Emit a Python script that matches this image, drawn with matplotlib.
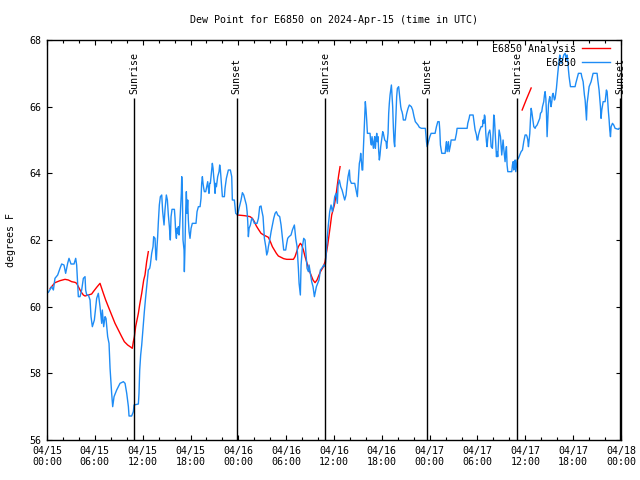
import numpy as np
import matplotlib
matplotlib.use("Agg")
import matplotlib.pyplot as plt

# observed dew point (hours since 04/15 00:00 UTC, deg F)
obsHours = [
    0.17, 0.59, 0.80, 1.00, 1.34, 1.63, 1.84, 2.13, 2.34, 2.59, 2.76, 3.01, 3.39, 3.60, 3.72, 3.93,
    4.14, 4.35, 4.56, 4.77, 4.85, 4.98, 5.19, 5.40, 5.52, 5.69, 5.94, 6.23, 6.44, 6.65, 6.86, 6.94,
    7.11, 7.28, 7.40, 7.49, 7.61, 7.78, 7.91, 8.11, 8.24, 8.41, 8.74, 9.16, 9.58, 9.79, 10.00, 10.21,
    10.29, 10.62, 10.83, 10.92, 11.46, 11.54, 11.63, 11.75, 11.88, 12.09, 12.21, 12.38, 12.55, 12.71,
    12.88, 12.96, 13.13, 13.30, 13.38, 13.55, 13.63, 13.72, 13.80, 13.88, 13.97, 14.09, 14.22, 14.39,
    14.51, 14.68, 14.80, 14.97, 15.10, 15.22, 15.35, 15.47, 15.56, 15.68, 15.98, 16.06, 16.14, 16.23,
    16.31, 16.39, 16.48, 16.56, 16.64, 16.73, 16.85, 16.90, 16.98, 17.06, 17.19, 17.23, 17.31, 17.40,
    17.48, 17.56, 17.65, 17.73, 17.82, 17.94, 18.07, 18.23, 18.69, 18.82, 18.99, 19.20, 19.32, 19.40,
    19.49, 19.57, 19.66, 19.74, 19.91, 19.99, 20.16, 20.24, 20.32, 20.41, 20.49, 20.66, 20.74, 20.83,
    20.91, 21.00, 21.08, 21.16, 21.25, 21.41, 21.58, 21.66, 21.75, 21.83, 21.91, 22.00, 22.25, 22.33,
    22.50, 22.75, 23.00, 23.17, 23.25, 23.50, 23.67, 23.92, 24.09, 24.34, 24.51, 24.68, 24.84, 25.01,
    25.10, 25.18, 25.26, 25.35, 25.51, 25.68, 25.85, 26.01, 26.35, 26.52, 26.68, 26.85, 26.93, 27.10,
    27.18, 27.27, 27.44, 27.56, 27.69, 27.77, 27.94, 28.11, 28.27, 28.44, 28.61, 28.77, 28.94, 29.19,
    29.36, 29.53, 29.69, 29.94, 30.07, 30.19, 30.36, 30.61, 30.78, 30.95, 31.03, 31.11, 31.20, 31.37,
    31.53, 31.62, 31.78, 31.87, 32.04, 32.20, 32.37, 32.45, 32.62, 32.79, 32.87, 33.04, 33.20, 33.37,
    33.54, 33.62, 33.79, 33.96, 34.12, 34.29, 34.46, 34.71, 34.88, 34.96, 35.13, 35.29, 35.46, 35.63,
    35.80, 35.96, 36.09, 36.26, 36.42, 36.51, 36.67, 36.84, 37.01, 37.18, 37.34, 37.51, 37.59, 37.76,
    37.93, 38.01, 38.18, 38.60, 38.76, 38.93, 39.02, 39.10, 39.18, 39.27, 39.35, 39.43, 39.52, 39.60,
    39.68, 39.77, 39.85, 39.93, 40.02, 40.10, 40.19, 40.52, 40.60, 40.69, 40.77, 40.94, 41.02, 41.11,
    41.19, 41.27, 41.36, 41.44, 41.52, 41.61, 41.69, 41.77, 41.86, 41.94, 42.02, 42.11, 42.19, 42.36,
    42.53, 42.61, 42.69, 42.78, 42.86, 42.94, 43.03, 43.11, 43.20, 43.28, 43.36, 43.45, 43.53, 43.61,
    43.70, 43.78, 43.86, 43.95, 44.11, 44.20, 44.28, 44.37, 44.45, 44.53, 44.62, 44.70, 44.95, 45.12,
    45.29, 45.45, 45.70, 45.87, 46.04, 46.20, 46.37, 46.54, 46.71, 46.96, 47.46, 47.60, 47.68, 47.85,
    48.02, 48.18, 48.68, 48.85, 49.02, 49.19, 49.27, 49.35, 49.52, 49.94, 50.02, 50.11, 50.19, 50.27,
    50.36, 50.44, 50.61, 50.69, 51.19, 51.36, 51.44, 52.70, 52.78, 52.95, 53.03, 53.45, 53.53, 53.62,
    53.70, 53.87, 53.95, 54.03, 54.12, 54.29, 54.45, 54.62, 54.70, 54.79, 54.87, 54.95, 55.04, 55.12,
    55.20, 55.29, 55.37, 55.54, 55.62, 55.71, 55.87, 55.96, 56.04, 56.12, 56.21, 56.29, 56.38, 56.46,
    56.54, 56.63, 56.71, 56.79, 56.88, 56.96, 57.04, 57.13, 57.21, 57.29, 57.38, 57.46, 57.55, 57.63,
    57.71, 57.80, 58.30, 58.38, 58.47, 58.55, 58.63, 58.72, 58.80, 58.97, 59.13, 59.30, 59.47, 59.64,
    59.80, 59.89, 59.97, 60.14, 60.22, 60.31, 60.39, 60.48, 60.56, 60.64, 60.73, 60.81, 60.89, 60.98,
    61.06, 61.23, 61.31, 61.48, 61.65, 61.81, 61.90, 62.06, 62.15, 62.31, 62.40, 62.48, 62.57, 62.65,
    62.73, 62.82, 62.90, 62.98, 63.07, 63.15, 63.23, 63.32, 63.40, 63.49, 63.57, 63.65, 63.74, 63.82,
    63.90, 63.99, 64.07, 64.15, 64.24, 64.32, 64.40, 64.49, 64.66, 64.82, 64.99, 65.07, 65.16, 65.24,
    65.32, 65.41, 65.49, 65.58, 65.66, 66.24, 66.33, 66.49, 66.66, 67.00, 67.08, 67.25, 67.41, 67.50,
    67.58, 67.67, 67.75, 67.83, 67.92, 68.00, 68.25, 68.50, 69.00, 69.09, 69.25, 69.34, 69.42, 69.50,
    69.59, 69.76, 70.01, 70.17, 70.26, 70.34, 70.42, 70.51, 70.59, 70.68, 70.76, 70.93, 71.09, 71.26,
    71.68, 71.76,
]
obsValues = [
    60.43, 60.60, 60.50, 60.85, 60.95, 61.15, 61.28, 61.25, 61.00, 61.30, 61.45, 61.28, 61.28, 61.45, 61.25, 60.30,
    60.30, 60.50, 60.85, 60.90, 60.50, 60.35, 60.35, 60.20, 59.70, 59.40, 59.60, 60.25, 60.40, 60.00, 59.50, 59.90,
    59.40, 59.70, 59.65, 59.40, 59.10, 58.90, 58.15, 57.40, 57.00, 57.30, 57.50, 57.70, 57.75, 57.70, 57.40, 57.00,
    56.72, 56.72, 56.85, 57.05, 57.08, 57.40, 58.10, 58.55, 58.85, 59.50, 59.85, 60.30, 60.70, 61.10,
    61.15, 61.25, 61.60, 61.80, 62.10, 62.05, 61.60, 61.40, 61.80, 62.10, 62.55, 63.05, 63.30, 63.35,
    62.85, 62.45, 62.90, 63.35, 63.20, 62.75, 62.40, 62.00, 62.70, 62.92, 62.92, 62.65, 62.25, 62.05,
    62.35, 62.20, 62.40, 62.15, 62.40, 62.85, 63.40, 63.90, 63.45, 62.00, 61.70, 61.05, 61.80, 62.90,
    63.45, 62.80, 63.20, 62.60, 62.25, 62.05, 62.35, 62.50, 62.50, 62.85, 63.00, 63.00, 63.25, 63.70,
    63.90, 63.70, 63.55, 63.45, 63.45, 63.55, 63.75, 63.55, 63.40, 63.70, 63.70, 64.10, 64.30, 64.15,
    63.90, 63.70, 63.40, 63.70, 63.60, 63.90, 64.05, 64.25, 64.10, 63.85, 63.60, 63.30, 63.30, 63.55,
    63.85, 64.10, 64.10, 63.90, 63.20, 63.20, 62.80, 62.75, 62.95, 63.20, 63.42, 63.35, 63.20, 63.05,
    62.85, 62.55, 62.10, 62.35, 62.45, 62.65, 62.60, 62.50, 62.50, 62.65, 63.00, 63.02, 62.90, 62.70,
    62.40, 62.05, 61.80, 61.55, 61.65, 61.80, 62.00, 62.25, 62.45, 62.65, 62.80, 62.85, 62.75, 62.70,
    62.45, 62.05, 61.70, 61.70, 61.90, 62.05, 62.10, 62.15, 62.30, 62.40, 62.45, 62.25, 62.05, 61.80,
    61.15, 60.70, 60.35, 61.25, 61.80, 62.05, 62.00, 61.70, 61.15, 61.05, 61.25, 61.00, 60.75, 60.60,
    60.30, 60.40, 60.60, 60.70, 60.80, 61.10, 61.15, 61.25, 61.20, 61.35, 62.00, 62.45, 62.85, 63.05,
    62.85, 63.05, 63.30, 63.40, 63.10, 63.65, 63.80, 63.60, 63.50, 63.35, 63.20, 63.35, 63.55, 63.90,
    64.10, 63.80, 63.70, 63.70, 63.50, 63.30, 63.70, 64.00, 64.30, 64.40, 64.60, 64.40, 64.10, 64.10,
    64.70, 65.20, 65.60, 66.15, 65.90, 65.60, 65.20, 65.20, 64.95, 64.85, 65.10, 64.75, 64.95, 65.10,
    64.75, 65.00, 65.20, 64.95, 65.10, 64.65, 64.40, 64.55, 64.80, 64.95, 65.10, 65.25, 65.20, 65.00,
    64.95, 64.75, 64.95, 65.20, 65.80, 66.10, 66.35, 66.50, 66.65, 66.30, 66.00, 65.35, 64.95, 64.80,
    65.30, 65.80, 66.30, 66.55, 66.60, 66.40, 66.25, 66.00, 65.90, 65.85, 65.75, 65.60, 65.60, 65.80,
    65.95, 66.05, 66.00, 65.90, 65.70, 65.55, 65.50, 65.45, 65.38, 65.35, 65.35, 64.95, 64.80, 64.95,
    65.10, 65.20, 65.20, 65.40, 65.55, 65.55, 65.30, 64.85, 64.60, 64.60, 64.80, 64.95, 64.65, 64.80,
    64.95, 64.65, 64.85, 65.00, 65.00, 65.20, 65.35, 65.35, 65.50, 65.65, 65.75, 65.75, 65.60, 65.45,
    65.30, 65.15, 65.00, 65.00, 65.15, 65.30, 65.40, 65.40, 65.60, 65.50, 65.75, 65.70, 65.20, 64.95,
    64.80, 65.05, 65.20, 65.30, 65.15, 64.80, 64.75, 65.20, 65.75, 65.65, 65.25, 64.85, 64.50, 64.65,
    64.50, 64.95, 65.30, 65.20, 65.10, 64.80, 64.55, 64.80, 65.00, 64.75, 64.55, 64.35, 64.65, 64.80,
    64.25, 64.05, 64.05, 64.25, 64.35, 64.10, 64.35, 64.40, 64.05, 64.40, 64.45, 64.55, 64.65, 64.70,
    64.95, 65.05, 65.15, 65.15, 65.10, 65.00, 64.80, 65.00, 65.20, 65.60, 65.95, 65.85, 65.70, 65.55,
    65.40, 65.35, 65.40, 65.45, 65.55, 65.65, 65.80, 65.85, 66.00, 66.15, 66.35, 66.45, 66.25, 65.80,
    65.10, 65.60, 66.05, 66.20, 66.30, 66.15, 66.00, 66.15, 66.35, 66.40, 66.30, 66.20, 66.25, 66.40,
    66.55, 66.80, 67.00, 67.20, 67.40, 67.55, 67.40, 67.30, 67.40, 67.55, 67.60, 67.50, 67.40, 67.55,
    67.40, 67.10, 66.90, 66.75, 66.60, 66.60, 66.70, 66.85, 67.00, 67.00, 66.90, 66.75, 66.35, 66.20,
    65.90, 65.60, 66.10, 66.25, 66.45, 66.60, 66.75, 67.00, 67.00, 66.80, 66.50, 66.25, 66.00, 65.65,
    65.90, 66.15, 66.15, 66.50, 66.45, 66.15, 65.85, 65.60, 65.30, 65.10, 65.40, 65.50, 65.45, 65.35,
    65.32, 65.35,
]

# analysis values, nan marks the gaps between runs
anaHours = [
    0.40, 1.00, 1.63, 2.26, 2.68, 3.09, 3.51, 3.72, 3.93, 4.26, 4.56, 4.77, 5.19, 5.60, 5.81, 6.23,
    6.65, 6.86, 7.07, 7.36, 7.69, 8.11, 8.53, 8.95, 9.37, 9.70, 10.12, 10.54, 10.70, 10.83, 10.96,
    11.12, 11.29, 11.46, 11.62, 11.88, 12.13, 12.29, 12.50, 12.71,
    np.nan,
    23.90, 24.76, 25.05, 25.47, 25.76, 26.01, 26.26, 26.52, 26.85, 27.18, 27.44, 27.77, 28.02, 28.27,
    28.52, 28.77, 29.02, 29.36, 29.69, 30.07, 30.49, 30.91, 31.11, 31.32, 31.53, 31.78, 31.95, 32.16,
    32.37, 32.62, 32.87, 33.12, 33.37, 33.62, 33.87, 34.12, 34.37, 34.63, 34.88, 35.04, 35.21, 35.38,
    35.55, 35.71, 35.88, 36.05, 36.26, 36.42, 36.59, 36.76,
    np.nan,
    59.60, 60.15, 60.73,
]
anaValues = [
    60.55, 60.72, 60.78, 60.82, 60.80, 60.75, 60.73, 60.70, 60.60, 60.45, 60.35, 60.32, 60.35, 60.38, 60.45, 60.58,
    60.70, 60.55, 60.40, 60.20, 60.00, 59.75, 59.50, 59.30, 59.10, 58.95, 58.85, 58.78, 58.75, 58.95, 59.10,
    59.40, 59.60, 59.80, 60.05, 60.40, 60.80, 60.95, 61.35, 61.65,
    np.nan,
    62.75, 62.73, 62.72, 62.70, 62.65, 62.55, 62.42, 62.32, 62.20, 62.15, 62.12, 62.08, 61.95, 61.80,
    61.70, 61.60, 61.52, 61.48, 61.44, 61.42, 61.42, 61.42, 61.50, 61.65, 61.80, 61.90, 61.85, 61.70,
    61.50, 61.30, 61.10, 60.95, 60.80, 60.72, 60.80, 60.95, 61.08, 61.18, 61.35, 61.60, 61.85, 62.15,
    62.45, 62.75, 62.90, 63.05, 63.35, 63.65, 63.95, 64.20,
    np.nan,
    65.90, 66.23, 66.56,
]

sunEvents = ["Sunrise", "Sunset", "Sunrise", "Sunset", "Sunrise", "Sunset"]
sunHours = [10.95, 23.78, 34.88, 47.72, 59.0, 71.9]

tickHours = list(range(0, 73, 6))
tickLabels = [
    "04/15\n00:00", "04/15\n06:00", "04/15\n12:00", "04/15\n18:00",
    "04/16\n00:00", "04/16\n06:00", "04/16\n12:00", "04/16\n18:00",
    "04/17\n00:00", "04/17\n06:00", "04/17\n12:00", "04/17\n18:00",
    "04/18\n00:00",
]

plt.rcParams["font.family"] = "DejaVu Sans Mono"
plt.rcParams["font.size"] = 7.2

fig = plt.figure(figsize=(6.4, 4.8), dpi=100)
ax = fig.add_axes([47 / 640, 40 / 480, 574 / 640, 400 / 480])

ax.plot(anaHours, anaValues, color="#ff0000", lw=1.0, label="E6850 Analysis")
ax.plot(obsHours, obsValues, color="#1e8cf5", lw=1.0, label="E6850")

for name, hour in zip(sunEvents, sunHours):
    ax.vlines(hour, 56, 66.25, color="black", lw=1.0)
    ax.text(hour, 66.38, name, rotation=90, ha="center", va="bottom")

ax.set_xlim(0, 72)
ax.set_ylim(56, 68)
ax.set_xticks(tickHours)
ax.set_xticklabels(tickLabels)
ax.set_xticks(range(0, 73, 2), minor=True)
ax.set_yticks(range(56, 69, 2))
ax.tick_params(which="both", direction="in", top=True, right=True, width=0.8)
ax.tick_params(which="major", length=3.5, pad=4)
ax.tick_params(which="minor", length=2)
for spine in ax.spines.values():
    spine.set_linewidth(1.0)

ax.set_ylabel("degrees F", labelpad=10)
ax.set_title("Dew Point for E6850 on 2024-Apr-15 (time in UTC)", fontsize=7.2, pad=12)

# gnuplot-style key, text right-aligned before the sample line
ax.legend(loc="upper right", bbox_to_anchor=(0.988, 1.0), frameon=False, markerfirst=False,
          handlelength=2.8, handletextpad=0.6, labelspacing=0.4, borderaxespad=0.1, borderpad=0.3)

fig.savefig("out.png", dpi=100)
